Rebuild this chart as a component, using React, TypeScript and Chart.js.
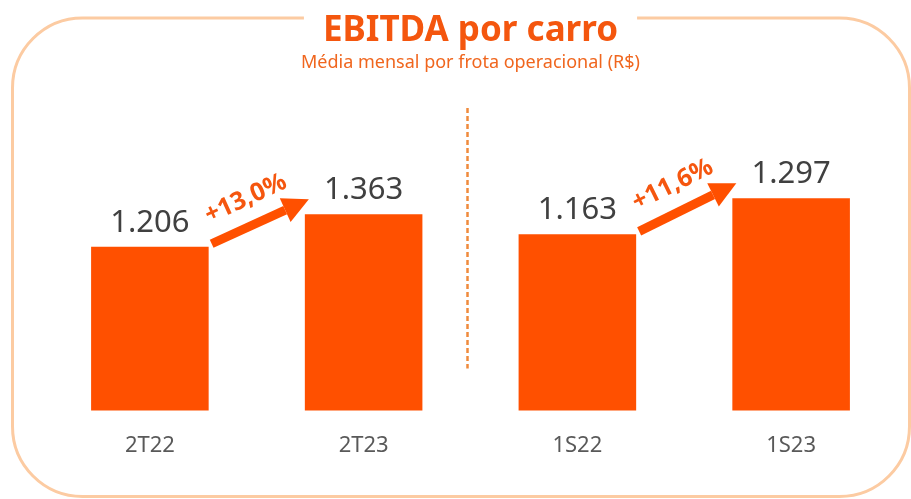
import React, { useEffect, useRef } from "react";
import { Chart, registerables } from "chart.js";

Chart.register(...registerables);

// ---- data ----
const categories = ["2T22", "2T23", "1S22", "1S23"];
const quarterValues = [1206, 1363, null, null];
const semesterValues = [null, null, 1163, 1297];
const growthLabels = ["+13,0%", "+11,6%"];
const growthPairs = [
  [0, 1],
  [2, 3],
];
const titleText = "EBITDA por carro";
const subtitleText = "Média mensal por frota operacional (R$)";
// value-axis ranges (the two panels are drawn on independent scales)
const quarterRange = [412, 1917];
const semesterRange = [507, 1663];

const FONT = '"Noto Sans", "Open Sans", sans-serif';
const BAR_COLOR = "#FF5000";
const TITLE_COLOR = "#F4560E";
const TITLE_SIZE = 35;

const fmt = (v: number) => String(v).replace(/\B(?=(\d{3})+(?!\d))/g, ".");

const barAt = (chart: any, i: number) => {
  for (let d = 0; d < chart.data.datasets.length; d++) {
    const v = chart.data.datasets[d].data[i];
    if (v != null) return { el: chart.getDatasetMeta(d).data[i], v };
  }
  return null;
};

const decorPlugin = {
  id: "decor",
  beforeDraw(chart: any) {
    const ctx = chart.ctx;
    const { left, right } = chart.chartArea;
    const cx = (left + right) / 2;
    ctx.save();
    ctx.font = `bold ${TITLE_SIZE}px ${FONT}`;
    const tw = ctx.measureText(titleText).width;
    const gapL = cx - tw / 2 - 19;
    const gapR = cx + tw / 2 + 19;
    const x0 = 12.5,
      y0 = 18,
      x1 = 909.5,
      y1 = 496.5,
      r = 70;
    ctx.strokeStyle = "#FCCBA2";
    ctx.lineWidth = 3;
    ctx.beginPath();
    ctx.moveTo(gapR, y0);
    ctx.lineTo(x1 - r, y0);
    ctx.arcTo(x1, y0, x1, y0 + r, r);
    ctx.lineTo(x1, y1 - r);
    ctx.arcTo(x1, y1, x1 - r, y1, r);
    ctx.lineTo(x0 + r, y1);
    ctx.arcTo(x0, y1, x0, y1 - r, r);
    ctx.lineTo(x0, y0 + r);
    ctx.arcTo(x0, y0, x0 + r, y0, r);
    ctx.lineTo(gapL, y0);
    ctx.stroke();
    ctx.restore();
  },
  afterDatasetsDraw(chart: any) {
    const ctx = chart.ctx;
    const xs = chart.scales.x;
    const area = chart.chartArea;
    ctx.save();

    // dashed separator between the two panels
    const sepX = (xs.getPixelForTick(1) + xs.getPixelForTick(2)) / 2 - 3;
    ctx.strokeStyle = "#F08A3C";
    ctx.lineWidth = 2.5;
    ctx.setLineDash([5, 3]);
    ctx.beginPath();
    ctx.moveTo(sepX, area.top + 8);
    ctx.lineTo(sepX, area.bottom - 42);
    ctx.stroke();
    ctx.setLineDash([]);

    // value labels
    ctx.font = `31px ${FONT}`;
    ctx.fillStyle = "#404040";
    ctx.textAlign = "center";
    ctx.textBaseline = "alphabetic";
    categories.forEach((_, i) => {
      const b = barAt(chart, i);
      if (!b) return;
      ctx.fillText(fmt(b.v), b.el.x, b.el.y - 15);
    });

    // growth arrows
    growthPairs.forEach(([a, c], k) => {
      const ba = barAt(chart, a);
      const bc = barAt(chart, c);
      if (!ba || !bc) return;
      const sx = ba.el.x + ba.el.width / 2 + 3;
      const sy = ba.el.y - 3;
      const ex = bc.el.x - bc.el.width / 2 + 4;
      const ey = bc.el.y - 15;
      const ang = Math.atan2(ey - sy, ex - sx);
      const headLen = 26,
        headW = 13;
      const bx = ex - headLen * Math.cos(ang);
      const by = ey - headLen * Math.sin(ang);
      ctx.strokeStyle = BAR_COLOR;
      ctx.fillStyle = BAR_COLOR;
      ctx.lineWidth = 9;
      ctx.lineCap = "butt";
      ctx.beginPath();
      ctx.moveTo(sx, sy);
      ctx.lineTo(bx, by);
      ctx.stroke();
      ctx.beginPath();
      ctx.moveTo(ex, ey);
      ctx.lineTo(bx + headW * Math.sin(ang), by - headW * Math.cos(ang));
      ctx.lineTo(bx - headW * Math.sin(ang), by + headW * Math.cos(ang));
      ctx.closePath();
      ctx.fill();

      const mx = (sx + ex) / 2 + 25 * Math.sin(ang) - 4;
      const my = (sy + ey) / 2 - 25 * Math.cos(ang);
      ctx.save();
      ctx.translate(mx, my);
      ctx.rotate(ang);
      ctx.font = `bold 25px ${FONT}`;
      ctx.fillStyle = "#F5560F";
      ctx.textAlign = "center";
      ctx.textBaseline = "middle";
      ctx.fillText(growthLabels[k], 0, 0);
      ctx.restore();
    });

    ctx.restore();
  },
};

export default function App() {
  const ref = useRef<HTMLCanvasElement>(null);

  useEffect(() => {
    if (!ref.current) return;
    const chart = new Chart(ref.current, {
      type: "bar",
      data: {
        labels: categories,
        datasets: [
          {
            label: "Trimestre",
            data: quarterValues as any,
            backgroundColor: BAR_COLOR,
            yAxisID: "y",
            categoryPercentage: 0.55,
            barPercentage: 1,
          },
          {
            label: "Semestre",
            data: semesterValues as any,
            backgroundColor: BAR_COLOR,
            yAxisID: "y2",
            categoryPercentage: 0.55,
            barPercentage: 1,
          },
        ],
      },
      options: {
        responsive: false,
        animation: false,
        devicePixelRatio: 1,
        layout: { padding: { top: 0, left: 43, right: 13, bottom: 18 } },
        plugins: {
          legend: { display: false },
          tooltip: { enabled: false },
          title: {
            display: true,
            text: titleText,
            color: TITLE_COLOR,
            font: { family: FONT, size: TITLE_SIZE, weight: "bold" },
            padding: { top: 10, bottom: 0 },
          },
          subtitle: {
            display: true,
            text: subtitleText,
            color: "#F0661E",
            font: { family: FONT, size: 18 },
            padding: { top: 0, bottom: 26.4 },
          },
        },
        scales: {
          x: {
            stacked: true,
            grid: { display: false, drawTicks: false },
            border: { display: false },
            ticks: {
              color: "#595959",
              font: { family: FONT, size: 22 },
              padding: 22,
            },
          },
          y: { display: false, min: quarterRange[0], max: quarterRange[1] },
          y2: { display: false, min: semesterRange[0], max: semesterRange[1] },
        },
      },
      plugins: [decorPlugin],
    });
    return () => chart.destroy();
  }, []);

  return (
    <div style={{ position: "absolute", left: 0, top: 0, width: 911, height: 499 }}>
      <canvas ref={ref} width={911} height={499} style={{ display: "block" }} />
    </div>
  );
}
